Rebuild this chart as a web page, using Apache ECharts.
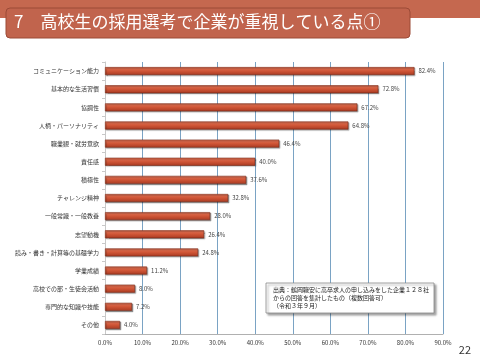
<!DOCTYPE html>
<html><head><meta charset="utf-8">
<script src="https://cdn.jsdelivr.net/npm/echarts@6/dist/echarts.min.js"></script>
<style>html,body{margin:0;padding:0;background:#fff}#c{width:480px;height:360px}</style>
</head><body><div id="c"></div>
<script>
const categories = ['コミュニケーション能力','基本的な生活習慣','協調性','人柄・パーソナリティ','職業観・就労意欲','責任感','積極性','チャレンジ精神','一般常識・一般教養','志望動機','読み・書き・計算等の基礎学力','学業成績','高校での部・生徒会活動','専門的な知識や技能','その他'];
const values = [82.4,72.8,67.2,64.8,46.4,40.0,37.6,32.8,28.0,26.4,24.8,11.2,8.0,7.2,4.0];
const xTicks = [0,10,20,30,40,50,60,70,80,90];
const titleText = '7　高校生の採用選考で企業が重視している点①';
const noteLines = ['出典：鶴岡職安に高卒求人の申し込みをした企業１２８社','からの回答を集計したもの（複数回答可）','（令和３年９月）'];
const pageNo = '22';

const F = '"Noto Sans CJK JP", "Noto Sans", sans-serif';
const chart = echarts.init(document.getElementById('c'), null, {renderer:'canvas'});
chart.setOption({
  animation:false,
  backgroundColor:'#fff',
  grid:{left:105, right:37, top:62, bottom:26, containLabel:false},
  xAxis:{type:'value', min:xTicks[0], max:xTicks[xTicks.length-1], interval:10,
    axisLine:{show:true, lineStyle:{color:'#b0b0b0'}},
    axisTick:{show:false},
    splitLine:{show:true, lineStyle:{color:'#7aa3c4', width:1}},
    axisLabel:{formatter:v=>v.toFixed(1)+'%', fontSize:6, color:'#333', fontFamily:F, margin:6}},
  yAxis:{type:'category', data:categories, inverse:true,
    axisLine:{show:true, lineStyle:{color:'#c8c8c8'}},
    axisTick:{show:true, length:3, lineStyle:{color:'#c8c8c8'}},
    axisLabel:{fontSize:6, color:'#333', fontFamily:F, margin:6}},
  series:[{type:'bar', data:values, barWidth:8,
    itemStyle:{color:new echarts.graphic.LinearGradient(0,0,0,1,[{offset:0,color:'#e4775a'},{offset:0.5,color:'#cf5536'},{offset:1,color:'#a83a22'}]),
      borderColor:'#7a2a18', borderWidth:0.6, shadowColor:'rgba(0,0,0,0.35)', shadowOffsetX:1, shadowOffsetY:1, shadowBlur:1},
    label:{show:true, position:'right', distance:4, formatter:p=>p.value.toFixed(1)+'%', fontSize:6, color:'#444', fontFamily:F}}],
  graphic:[
    {type:'rect', shape:{x:0,y:0,width:480,height:18}, style:{fill:'#c5684f'}, z:10},
    {type:'rect', shape:{x:6,y:8,width:404,height:30,r:4}, style:{fill:'#c1644d', stroke:'#9b4a37', lineWidth:1}, z:11},
    {type:'text', left:14, top:13, style:{text:titleText, fill:'#fff', font:'17px '+F}, z:12},
    {type:'rect', shape:{x:266,y:283,width:168,height:30}, style:{fill:'#fff', stroke:'#888', lineWidth:0.8, shadowColor:'rgba(0,0,0,0.35)', shadowOffsetX:2, shadowOffsetY:2, shadowBlur:2}, z:10},
    {type:'text', left:273, top:286, style:{text:noteLines.join('\n'), fill:'#222', font:'6px '+F, lineHeight:8}, z:11},
    {type:'text', right:9, top:344, style:{text:pageNo, fill:'#333', font:'11px '+F}, z:11}
  ]
});
</script></body></html>
